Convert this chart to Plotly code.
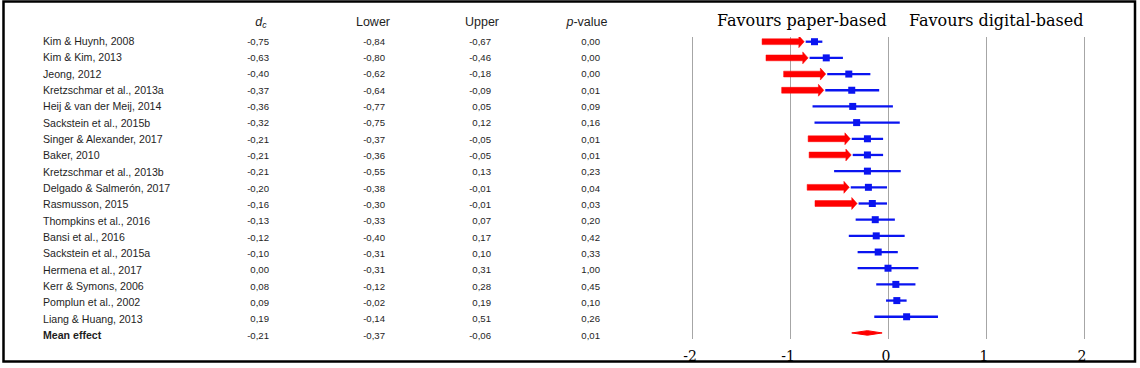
import plotly.graph_objects as go

# ---------------- data ----------------
studies = ["Kim & Huynh, 2008", "Kim & Kim, 2013", "Jeong, 2012", "Kretzschmar et al., 2013a",
           "Heij & van der Meij, 2014", "Sackstein et al., 2015b", "Singer & Alexander, 2017",
           "Baker, 2010", "Kretzschmar et al., 2013b", "Delgado & Salmerón, 2017", "Rasmusson, 2015",
           "Thompkins et al., 2016", "Bansi et al., 2016", "Sackstein et al., 2015a",
           "Hermena et al., 2017", "Kerr & Symons, 2006", "Pomplun et al., 2002", "Liang & Huang, 2013"]
dc = [-0.75, -0.63, -0.40, -0.37, -0.36, -0.32, -0.21, -0.21, -0.21, -0.20, -0.16,
      -0.13, -0.12, -0.10, 0.00, 0.08, 0.09, 0.19]
lower = [-0.84, -0.80, -0.62, -0.64, -0.77, -0.75, -0.37, -0.36, -0.55, -0.38, -0.30,
         -0.33, -0.40, -0.31, -0.31, -0.12, -0.02, -0.14]
upper = [-0.67, -0.46, -0.18, -0.09, 0.05, 0.12, -0.05, -0.05, 0.13, -0.01, -0.01,
         0.07, 0.17, 0.10, 0.31, 0.28, 0.19, 0.51]
pval = [0.00, 0.00, 0.00, 0.01, 0.09, 0.16, 0.01, 0.01, 0.23, 0.04, 0.03,
        0.20, 0.42, 0.33, 1.00, 0.45, 0.10, 0.26]
mean_label = "Mean effect"
mean_dc, mean_lower, mean_upper, mean_p = -0.21, -0.37, -0.06, 0.01
headers = ["<i>d</i><sub><i>c</i></sub>", "Lower", "Upper", "<i>p</i>-value"]
x_ticks = [-2, -1, 0, 1, 2]
x_ticktext = ["-2", "-1", "0", "1", "2"]
favour_labels = ["Favours paper-based", "Favours digital-based"]

# ---------------- layout constants ----------------
W, H = 1140, 368
BLUE = "#0a14f0"
RED = "#ff0000"
SANS = "Liberation Sans, Arial, sans-serif"
SERIF = "DejaVu Serif, serif"

n = len(studies)
rows = list(range(n))
mean_row = n


def fmt(v):
    return f"{v:.2f}".replace(".", ",")


fig = go.Figure()

# ---------- forest plot (x / y) ----------
fig.add_trace(go.Scatter(
    x=dc, y=rows, mode="markers",
    marker=dict(symbol="square", size=7, color=BLUE),
    error_x=dict(type="data", symmetric=False,
                 array=[u - d for u, d in zip(upper, dc)],
                 arrayminus=[d - l for d, l in zip(dc, lower)],
                 color=BLUE, thickness=2.3, width=0),
    xaxis="x", yaxis="y", showlegend=False, hoverinfo="skip"))

# mean effect diamond
dh = 0.14
fig.add_trace(go.Scatter(
    x=[mean_lower, mean_dc, mean_upper, mean_dc, mean_lower],
    y=[mean_row, mean_row - dh, mean_row, mean_row + dh, mean_row],
    mode="lines", fill="toself", fillcolor=RED, line=dict(color=RED, width=1),
    xaxis="x", yaxis="y", showlegend=False, hoverinfo="skip"))

# red arrows for significant studies (p < 0.05)
shapes = []
arrow_len, head_len = 0.43, 0.055
shaft_h, head_h = 0.18, 0.37
for i, (l, p) in enumerate(zip(lower, pval)):
    if p < 0.05:
        tip = l - 0.015
        tail = tip - arrow_len
        hb = tip - head_len
        path = (f"M {tail},{i - shaft_h} L {hb},{i - shaft_h} L {hb},{i - head_h} "
                f"L {tip},{i} L {hb},{i + head_h} L {hb},{i + shaft_h} L {tail},{i + shaft_h} Z")
        shapes.append(dict(type="path", path=path, xref="x", yref="y",
                           fillcolor=RED, line=dict(color=RED, width=0.5), layer="above"))

# outer frame
shapes.append(dict(type="rect", xref="paper", yref="paper",
                   x0=3.5 / W, x1=1135 / W, y0=1 - 361.5 / H, y1=1 - 1.5 / H,
                   line=dict(color="black", width=2.5), fillcolor="rgba(0,0,0,0)", layer="above"))

# ---------- table (x2 / y2 in pixel-like units) ----------
def add_col(texts, x, pos, size, y_vals, color="#1e1e1e"):
    fig.add_trace(go.Scatter(
        x=[x] * len(texts), y=y_vals, mode="text", text=texts, textposition=pos,
        textfont=dict(family=SANS, size=size, color=color), cliponaxis=False,
        xaxis="x2", yaxis="y2", showlegend=False, hoverinfo="skip"))

all_rows = rows + [mean_row]
add_col(studies + [f"<b>{mean_label}</b>"], 43, "middle right", 10.6, all_rows)
add_col([fmt(v) for v in dc + [mean_dc]], 269, "middle left", 9.6, all_rows)
add_col([fmt(v) for v in lower + [mean_lower]], 385, "middle left", 9.6, all_rows)
add_col([fmt(v) for v in upper + [mean_upper]], 491, "middle left", 9.6, all_rows)
add_col([fmt(v) for v in pval + [mean_p]], 600, "middle left", 9.6, all_rows)

hdr_x = [261, 373, 482, 587]
fig.add_trace(go.Scatter(
    x=hdr_x, y=[-1.21] * 4, mode="text", text=headers, textposition="middle center",
    textfont=dict(family=SANS, size=12.5, color="#1e1e1e"), cliponaxis=False,
    xaxis="x2", yaxis="y2", showlegend=False, hoverinfo="skip"))

# favour labels
annotations = []
for lab, cx in zip(favour_labels, [801.5, 995.5]):
    annotations.append(dict(text=lab, x=cx / W, y=1 - 20 / H, xref="paper", yref="paper",
                            xanchor="center", yanchor="middle", showarrow=False,
                            font=dict(family=SERIF, size=16, color="black")))

# ---------- axes ----------
px_per_unit = 98.0
zero_px = 888.0
xl_px, xr_px = 680.0, 1134.0
row0_px, row_step = 41.7, 16.18
top_px, bot_px = 37.0, 339.0

t_row0_px, t_row_step = 42.3, 16.33

fig.update_layout(
    width=W, height=H, margin=dict(l=0, r=0, t=0, b=0),
    paper_bgcolor="white", plot_bgcolor="rgba(0,0,0,0)",
    shapes=shapes, annotations=annotations,
    xaxis=dict(domain=[xl_px / W, xr_px / W],
               range=[(xl_px - zero_px) / px_per_unit, (xr_px - zero_px) / px_per_unit],
               tickvals=x_ticks, ticktext=x_ticktext, showgrid=True,
               gridcolor="#a6a6a6", gridwidth=1.4, zeroline=False, showline=False,
               ticks="", tickfont=dict(family=SERIF, size=14, color="black"),
               ticklabelstandoff=7, ticklabelshift=-2, fixedrange=True),
    yaxis=dict(domain=[1 - bot_px / H, 1 - top_px / H],
               range=[(bot_px - row0_px) / row_step, (top_px - row0_px) / row_step],
               visible=False, fixedrange=True),
    xaxis2=dict(domain=[0, 1], range=[0, W], visible=False, anchor="y2", fixedrange=True),
    yaxis2=dict(domain=[0, 1], range=[(H - t_row0_px) / t_row_step, (0 - t_row0_px) / t_row_step],
                visible=False, anchor="x2", fixedrange=True),
)

fig.write_html("out.html", config={"displayModeBar": False},
               post_script="document.body.style.margin='0';document.body.style.overflow='hidden';")
